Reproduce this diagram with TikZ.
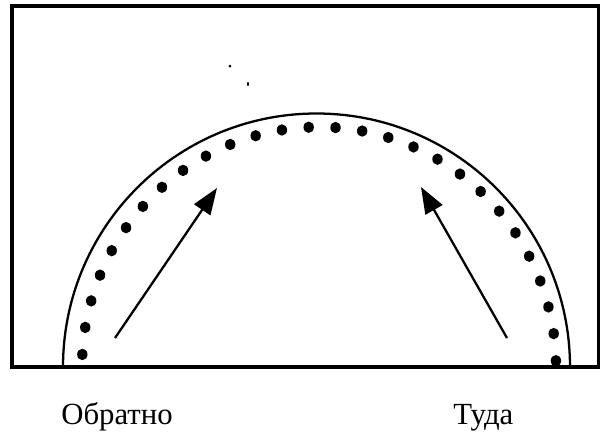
\documentclass[tikz,border=0pt]{standalone}
\usepackage{fontspec}
\setmainfont{Liberation Serif}
\usetikzlibrary{arrows.meta,shapes.geometric}
\tikzset{
  frameline/.style={line width=2.2pt},
  arcline/.style={line width=1.3pt},
  dotmark/.style={ellipse,fill=black,inner sep=0pt,minimum width=5.9pt,minimum height=6.5pt},
  flowarrow/.style={line width=1.3pt,-{Triangle[length=15pt,width=11pt]}},
  caption/.style={font=\fontsize{17.5}{21}\selectfont,anchor=base west,inner sep=0pt}
}
\begin{document}
\begin{tikzpicture}[x=0.02cm,y=-0.02cm]
\useasboundingbox (0,0) rectangle (600,434);
% frame
\draw[frameline] (12,6) rectangle (598.5,367);
% semicircle
\draw[arcline] (63,367) arc[start angle=180,end angle=360,radius=253.5];
% dots
\foreach \i in {0,...,27}{
  \pgfmathsetmacro\ang{177-\i*6.5}
  \node[dotmark] (d\i) at ({319+237*cos(\ang)},{367-240*sin(\ang)}) {};
}
% arrows
\coordinate (la) at (115,338);
\coordinate (lb) at (217,188);
\coordinate (ra) at (507,338);
\coordinate (rb) at (421,187);
\draw[flowarrow] (la) -- (lb);
\draw[flowarrow] (ra) -- (rb);
% specks
\fill (230,66) circle[radius=1.5];
\fill (248,84) ellipse[x radius=1,y radius=2];
% labels
\node[caption] (back) at (61,424) {Обратно};
\node[caption] (there) at (453,424) {Туда};
\end{tikzpicture}
\end{document}
